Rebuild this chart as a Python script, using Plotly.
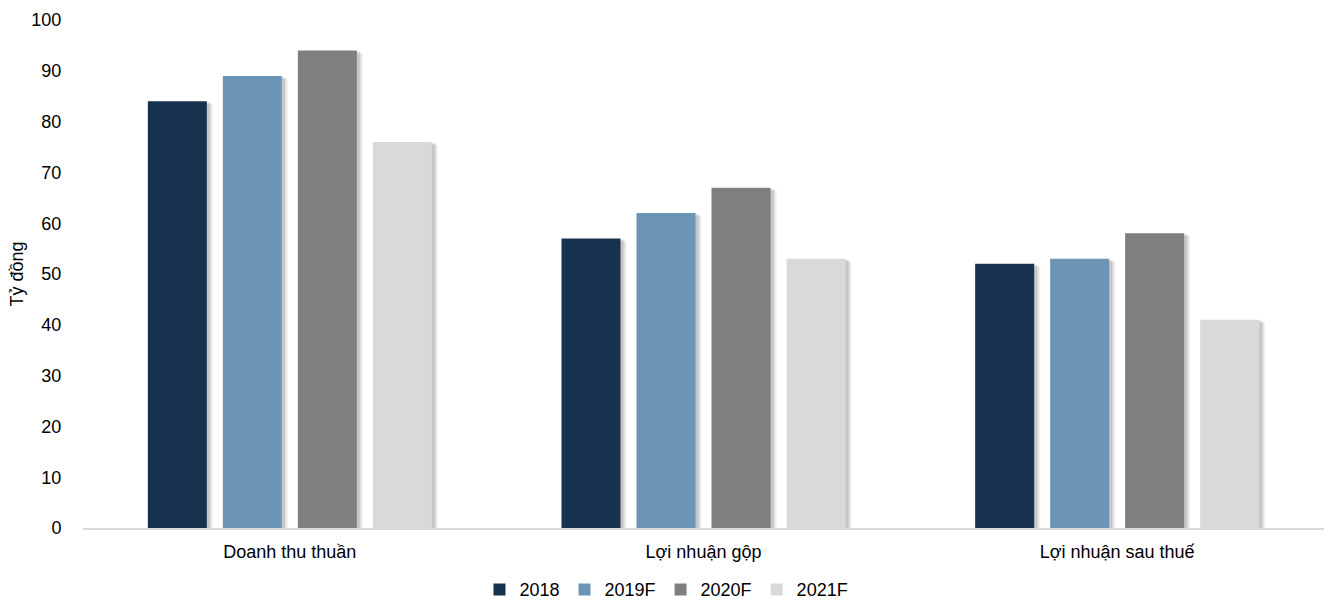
import plotly.graph_objects as go

categories = ["Doanh thu thuần", "Lợi nhuận gộp", "Lợi nhuận sau thuế"]
series_names = ["2018", "2019F", "2020F", "2021F"]
values_2018 = [84, 57, 52]
values_2019F = [89, 62, 53]
values_2020F = [94, 67, 58]
values_2021F = [76, 53, 41]
y_ticks = [0, 10, 20, 30, 40, 50, 60, 70, 80, 90, 100]

series_values = [values_2018, values_2019F, values_2020F, values_2021F]
colors = ["#17324F", "#6C95B5", "#7F7F7F", "#D9D9D9"]

W, H = 1325, 603
ml, mr, mt, mb = 83, 1, 20, 75
cat_px = (W - ml - mr) / 3.0
slot = 75 / cat_px
bw = 59 / cat_px
px = 1 / cat_px
unit_y = 100 / (H - mt - mb)

fig = go.Figure()

# soft shadows
for i, vals in enumerate(series_values):
    base_off = (i - 1.5) * slot - bw / 2
    for k, (dx, dy, a) in enumerate([(6, 3, 0.06), (4.5, 2, 0.08), (3, 1, 0.10)]):
        fig.add_trace(go.Bar(
            x=categories, y=vals, base=-dy * unit_y,
            offset=base_off + dx * px, width=bw,
            marker=dict(color=f"rgba(0,0,0,{a})", line=dict(width=0)),
            showlegend=False, hoverinfo="skip",
        ))

for i, (name, vals) in enumerate(zip(series_names, series_values)):
    fig.add_trace(go.Bar(
        x=categories, y=vals, name=name,
        offset=(i - 1.5) * slot - bw / 2, width=bw,
        marker=dict(color=colors[i], line=dict(width=0)),
    ))

fig.update_layout(
    width=W, height=H,
    margin=dict(l=ml, r=mr, t=mt, b=mb, pad=0, autoexpand=False),
    barmode="overlay",
    plot_bgcolor="white", paper_bgcolor="white",
    font=dict(family="Liberation Sans, Arial, sans-serif", size=18, color="#000000"),
    showlegend=True,
    legend=dict(orientation="h", xref="container", x=0.503, xanchor="center",
                yref="container", y=0.022, yanchor="middle",
                font=dict(size=18), itemwidth=30,
                traceorder="normal", bgcolor="rgba(0,0,0,0)"),
    xaxis=dict(
        showgrid=False, showline=True, linecolor="#D9D9D9", linewidth=2,
        ticks="outside", ticklen=6, tickcolor="rgba(0,0,0,0)",
        tickfont=dict(size=18), range=[-0.5, 2.5],
    ),
    yaxis=dict(
        range=[0, 100], tickvals=y_ticks, showgrid=False, zeroline=False,
        showline=False, ticks="outside", ticklen=17, tickcolor="rgba(0,0,0,0)",
        tickfont=dict(size=18),
        title=dict(text="Tỷ đồng", font=dict(size=18), standoff=3),
    ),
)

fig.write_html("out.html")
